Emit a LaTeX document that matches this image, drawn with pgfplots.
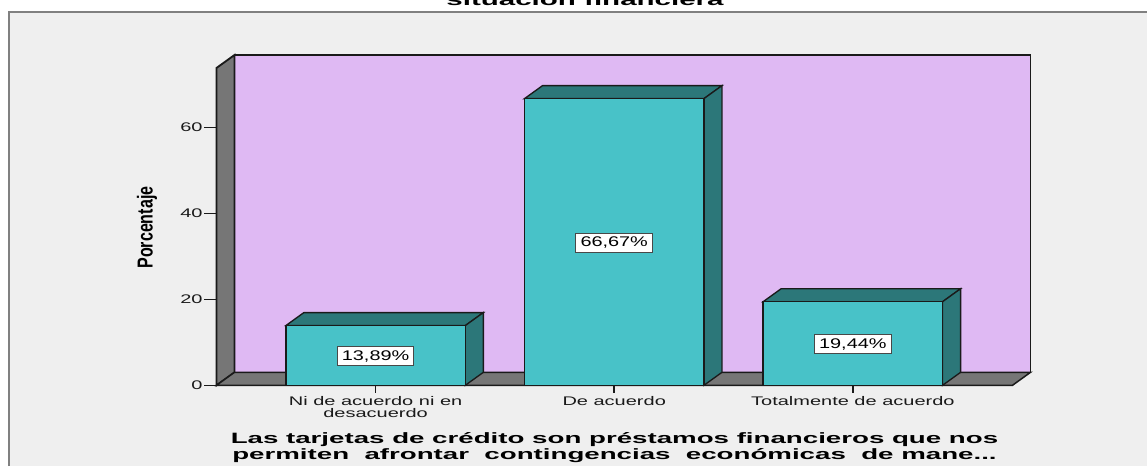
\documentclass[border=0pt]{standalone}
\usepackage{graphicx}
\usepackage{fontspec}
\setmainfont{Liberation Sans}
\usepackage{pgfplots}
\pgfplotsset{compat=1.18}
\definecolor{wall}{HTML}{DFB9F3}
\definecolor{barfront}{HTML}{48C2C8}
\definecolor{bardark}{HTML}{2C7779}
\definecolor{side}{HTML}{767676}
\definecolor{panel}{HTML}{EFEFEF}
\definecolor{inkc}{HTML}{1A1A1A}
\newcommand\sx[1]{\scalebox{1.6}[1]{#1}}
\newcommand\sbf[1]{\scalebox{1.845}[1]{\bfseries #1}}
\newcommand\sv[1]{\scalebox{1.42}[1]{#1}}
\begin{document}
\begin{tikzpicture}[x=0.6pt,y=0.6pt]
\useasboundingbox (0,0) rectangle (1147,466);
\clip (0,0) rectangle (1147,466);
\fill[white] (0,0) rectangle (1147,466);
\fill[panel] (9,0) rectangle (1147,454);
\draw[gray,line width=0.9pt] (9,0) -- (9,454) -- (1147,454);
\begin{axis}[
    at={(129.9pt,48.42pt)},
    anchor=south west,
    scale only axis,
    width=477.6pt,
    height=190.4pt,
    xmin=-0.6667, xmax=2.669,
    ymin=0, ymax=73.8,
    clip=false,
    axis x line*=bottom,
    axis y line*=left,
    axis line style={draw=none},
    tick align=outside,
    major tick length=7.2pt,
    ytick style={inkc,line width=0.9pt},
    xtick style={draw=none},
    xtick={0,1,2},
    xticklabels={{\sx{Ni de acuerdo ni en}\\\sx{desacuerdo}},{\sx{De acuerdo}},{\sx{Totalmente de acuerdo}}},
    xticklabel style={align=center,font=\fontsize{7.5}{7.2}\selectfont,text=inkc,inner sep=1pt,yshift=2pt,anchor=north},
    ytick={0,20,40,60},
    yticklabels={\sx{0},\sx{20},\sx{40},\sx{60}},
    yticklabel style={font=\fontsize{7.5}{9}\selectfont,text=inkc,inner sep=1pt},
    ylabel={\scalebox{0.74}[1]{\bfseries Porcentaje}},
    ylabel style={at={(axis description cs:-0.0873,0.497)},anchor=center,font=\fontsize{13}{15}\selectfont},
    xlabel={\sbf{Las tarjetas de crédito son préstamos financieros que nos}\\\sbf{permiten\ \ afrontar\ \ contingencias\ \ económicas\ \ de mane...}},
    xlabel style={at={(axis description cs:0.5,0)},anchor=north,yshift=-24.7pt,align=center,font=\fontsize{9}{9.6}\selectfont},
    title={\scalebox{1.864}[1]{\bfseries situación financiera}},
    every axis title shift=0pt,
    title style={at={(axis description cs:0.463,1.1955)},anchor=base,font=\fontsize{9.5}{10}\selectfont},
]
% back wall
\addplot[fill=wall,draw=inkc,line width=0.9pt] coordinates {(-0.5912,3.02) (2.7445,3.02) (2.7445,76.82) (-0.5912,76.82)} --cycle;
% left wall
\addplot[fill=side,draw=inkc,line width=1.1pt] coordinates {(-0.6667,0) (-0.5912,3.02) (-0.5912,76.82) (-0.6667,73.8)} --cycle;
% floor
\addplot[fill=side,draw=inkc,line width=0.9pt] coordinates {(-0.6667,0) (2.669,0) (2.7445,3.02) (-0.5912,3.02)} --cycle;
% short x ticks under the categories
\addplot[ycomb,mark=none,draw=inkc,line width=0.9pt] coordinates {(0,-1.9) (1,-1.9) (2,-1.9)};
% bar tops
\addplot[fill=bardark,draw=inkc,line width=0.8pt] coordinates {(-0.376,13.89) (0.376,13.89) (0.4515,16.91) (-0.3005,16.91)} --cycle;
\addplot[fill=bardark,draw=inkc,line width=0.8pt] coordinates {(0.624,66.67) (1.376,66.67) (1.4515,69.69) (0.6995,69.69)} --cycle;
\addplot[fill=bardark,draw=inkc,line width=0.8pt] coordinates {(1.624,19.44) (2.376,19.44) (2.4515,22.46) (1.6995,22.46)} --cycle;
% bar sides
\addplot[fill=bardark,draw=inkc,line width=0.8pt] coordinates {(0.376,0) (0.4515,3.02) (0.4515,16.91) (0.376,13.89)} --cycle;
\addplot[fill=bardark,draw=inkc,line width=0.8pt] coordinates {(1.376,0) (1.4515,3.02) (1.4515,69.69) (1.376,66.67)} --cycle;
\addplot[fill=bardark,draw=inkc,line width=0.8pt] coordinates {(2.376,0) (2.4515,3.02) (2.4515,22.46) (2.376,19.44)} --cycle;
% bar fronts
\addplot[ybar,bar width=107.7pt,fill=barfront,draw=inkc,line width=0.8pt] coordinates {(0,13.89) (1,66.67) (2,19.44)};
% value boxes, at half the bar height
\addplot[draw=none,mark=none,point meta=explicit symbolic,
    nodes near coords,
    nodes near coords style={anchor=center,fill=white,draw=inkc!80,line width=0.6pt,
      minimum width=46pt,minimum height=11.4pt,inner sep=0pt,text=black,yshift=-0.5pt,
      font=\fontsize{8.4}{9}\selectfont}]
  coordinates {(0,6.945)[\sv{13,89\%}] (1,33.335)[\sv{66,67\%}] (2,9.72)[\sv{19,44\%}]};
\end{axis}
\end{tikzpicture}
\end{document}
